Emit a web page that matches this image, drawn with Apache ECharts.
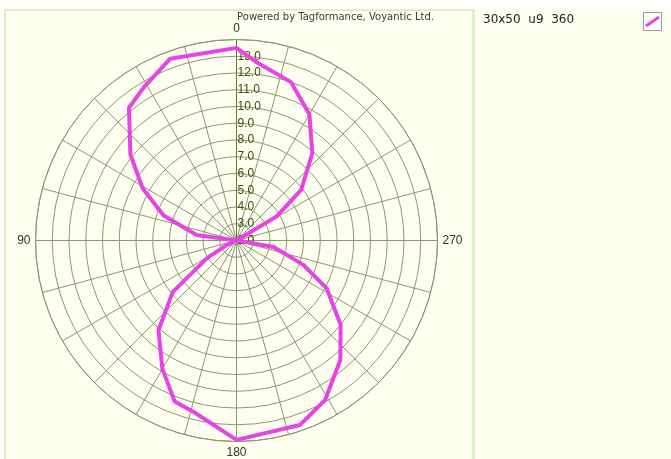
<!DOCTYPE html>
<html>
<head>
<meta charset="utf-8">
<script src="https://cdn.jsdelivr.net/npm/echarts@6/dist/echarts.min.js"></script>
<style>
html, body { margin: 0; padding: 0; background: #fff; }
#chart { width: 671px; height: 459px; }
</style>
</head>
<body>
<div id="chart"></div>
<script>
'use strict'

/*-----data-----*/
var seriesName = '30x50  u9  360';
var angles = [0, 20, 31, 39, 51, 61, 71, 82, 95, 115, 121, 129, 139, 150, 159, 166, 180,
	199, 209, 221, 231, 242, 250, 260, 275, 301, 308, 319, 330, 341, 354, 360];
var values = [13.5, 13.55, 12.7, 12.2, 10.15, 8.4, 6.6, 4.4, 2.0, 2.65, 4.05, 6.9, 9.1, 10.85, 12.3, 12.55, 13.9,
	13.65, 12.9, 11.45, 10.0, 8.1, 6.25, 4.25, 2.0, 4.8, 6.9, 8.9, 10.7, 12.0, 12.75, 13.5];
var angleLabels = [0, 90, 180, 270];
var radiusMin = 2, radiusMax = 14;

var points = angles.map(function(a, i) { return [values[i], a]; });

var grid = '#8a9a6e';
var chart = echarts.init(document.getElementById('chart'));
var option = {
	backgroundColor: '#fefff0',
	animation: false,
	polar: {
		center: [236.5, 240.5],
		radius: 201
	},
	angleAxis: {
		type: 'value',
		min: 0,
		max: 360,
		interval: 15,
		startAngle: 90,
		clockwise: false,
		axisLine: { lineStyle: { color: grid, width: 1 } },
		axisTick: { show: false },
		splitLine: { lineStyle: { color: grid, width: 1 } },
		axisLabel: {
			margin: 5,
			color: '#2e3a14',
			fontFamily: 'Liberation Sans',
			fontSize: 12,
			formatter: function(v) {
				return angleLabels.indexOf(v) >= 0 ? String(v) : '';
			}
		}
	},
	radiusAxis: {
		type: 'value',
		min: radiusMin,
		max: radiusMax,
		interval: 1,
		axisLine: { lineStyle: { color: '#66783a', width: 1 } },
		axisTick: { show: false },
		splitLine: { lineStyle: { color: grid, width: 1 } },
		axisLabel: {
			margin: -1,
			align: 'left',
			color: '#34500e',
			fontFamily: 'Liberation Sans',
			fontSize: 12,
			formatter: function(v) {
				return v < radiusMax ? v.toFixed(1) : '';
			}
		}
	},
	series: [{
		name: seriesName,
		type: 'line',
		coordinateSystem: 'polar',
		data: points,
		symbol: 'none',
		lineStyle: { color: '#e843e4', width: 4 }
	}],
	graphic: [
		{ type: 'rect', z: -10, shape: { x: 0, y: 0, width: 671, height: 9 }, style: { fill: '#ffffff' } },
		{ type: 'rect', z: -10, shape: { x: 0, y: 0, width: 4, height: 459 }, style: { fill: '#ffffff' } },
		{ type: 'rect', z: -9, shape: { x: 4, y: 9, width: 470, height: 2 }, style: { fill: '#d9f5bd' } },
		{ type: 'rect', z: -9, shape: { x: 4, y: 9, width: 2, height: 450 }, style: { fill: '#d9f5bd' } },
		{ type: 'rect', z: -9, shape: { x: 472, y: 9, width: 3, height: 450 }, style: { fill: '#d9f5bd' } },
		{
			type: 'text', left: 'center', z: 5,
			x: 0, top: 12,
			style: { text: 'Powered by Tagformance, Voyantic Ltd.', font: '10px "DejaVu Sans"', fill: '#3a3a3a' }
		},
		{
			type: 'text', z: 5, x: 483, y: 14,
			style: { text: seriesName, font: '12px "DejaVu Sans"', fill: '#222' }
		},
		{ type: 'rect', z: 5, shape: { x: 643.5, y: 12.5, width: 18, height: 18 }, style: { fill: '#fff', stroke: '#9a9a9a', lineWidth: 1 } },
		{ type: 'line', z: 6, shape: { x1: 646, y1: 26, x2: 659, y2: 17 }, style: { stroke: '#e843e4', lineWidth: 3 } }
	]
};
chart.setOption(option);
</script>
</body>
</html>
